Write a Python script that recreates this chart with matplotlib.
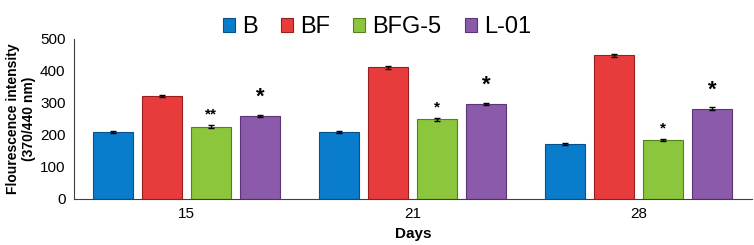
import matplotlib.pyplot as plt
import numpy as np

plt.rcParams['font.family'] = ['Liberation Sans', 'DejaVu Sans']

days = ['15', '21', '28']
series = ['B', 'BF', 'BFG-5', 'L-01']
B = [209, 209, 171]
BF = [323, 411, 449]
BFG = [226, 249, 183]
L01 = [259, 298, 282]
err_B = [3, 3, 3]
err_BF = [3, 4, 5]
err_BFG = [5, 5, 3]
err_L01 = [4, 3, 4]
stars_BFG = ['**', '*', '*']
stars_L01 = ['*', '*', '*']

colors = ['#0a7ccc', '#e83c3c', '#8cc63c', '#8c5aaa']
edges = ['#07508a', '#9a1e1e', '#55801e', '#5a3578']

fig = plt.figure(figsize=(7.54, 2.45), dpi=100)
ax = fig.add_axes([0.098, 0.188, 0.899, 0.653])

x = np.arange(len(days))
step = 0.217
width = 0.177
vals = [B, BF, BFG, L01]
errs = [err_B, err_BF, err_BFG, err_L01]
for i, (v, e) in enumerate(zip(vals, errs)):
    pos = x + (i - 1.5) * step
    ax.bar(pos, v, width, color=colors[i], edgecolor=edges[i], linewidth=0.8,
           label=series[i], zorder=2)
    ax.errorbar(pos, v, yerr=e, fmt='none', ecolor='black', elinewidth=1,
                capsize=2.5, capthick=1, zorder=3)

for j in range(len(days)):
    ax.text(x[j] + 0.5 * step, BFG[j] + 38, stars_BFG[j], ha='center',
            va='center', fontsize=11, fontweight='bold')
    ax.text(x[j] + 1.5 * step, L01[j] + 58, stars_L01[j], ha='center',
            va='center', fontsize=16, fontweight='bold')

ax.set_xlim(-0.5, 2.5)
ax.set_ylim(0, 500)
ax.set_yticks([0, 100, 200, 300, 400, 500])
ax.set_xticks(x)
ax.set_xticklabels(days)
ax.tick_params(axis='both', length=0, labelsize=11, pad=6)
ax.spines['top'].set_visible(False)
ax.spines['right'].set_visible(False)
ax.spines['left'].set_color('#404040')
ax.spines['bottom'].set_color('#404040')
ax.set_xlabel('Days', fontsize=11, fontweight='bold', labelpad=4)
ax.set_ylabel('Flourescence intensity\n(370/440 nm)', fontsize=10,
              fontweight='bold', labelpad=3)

fig.legend(loc='upper center', bbox_to_anchor=(0.5, 1.02), ncol=4,
           frameon=False, fontsize=17, handlelength=0.5, handleheight=0.5,
           handletextpad=0.3, columnspacing=1.0)

fig.savefig('out.png', dpi=100)
